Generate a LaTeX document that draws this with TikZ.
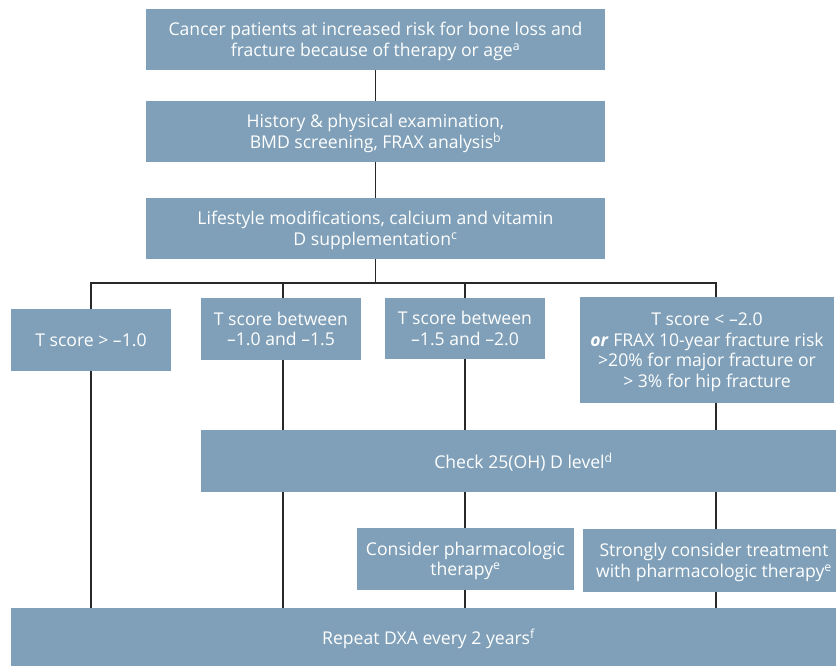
\documentclass[tikz,border=0pt]{standalone}
\usepackage{fontspec}
\setmainfont{Open Sans}
\definecolor{boxblue}{RGB}{127,160,184}
\definecolor{linegray}{RGB}{40,40,40}
\begin{document}
\begin{tikzpicture}[x=1pt,y=-1pt,
  box/.style={fill=boxblue, text=white, inner sep=0pt, align=center,
    text depth=0pt, font=\fontsize{17.6}{20.6}\selectfont},
  conn/.style={draw=linegray, line width=1.5pt}]
\useasboundingbox (0,0) rectangle (836,665);
\clip (0,0) rectangle (836,665);
% column coordinates
\coordinate (c1) at (91,0);
\coordinate (c2) at (283,0);
\coordinate (c3) at (465,0);
\coordinate (c4) at (716,0);
\coordinate (bus) at (375.5,283);
% boxes
\node[box, minimum width=459pt, minimum height=61pt] (b1) at (375.5,39.5)
  {Cancer patients at increased risk for bone loss and\\fracture because of therapy or age\textsuperscript{a}};
\node[box, minimum width=459pt, minimum height=61pt] (b2) at (375.5,131.5)
  {History \& physical examination,\\BMD screening, FRAX analysis\textsuperscript{b}};
\node[box, minimum width=459pt, minimum height=61pt] (b3) at (375.5,228.5)
  {Lifestyle modifications, calcium and vitamin\\D supplementation\textsuperscript{c}};
\node[box, minimum width=160pt, minimum height=62pt] (t1) at (91,340)
  {T score > –1.0};
\node[box, minimum width=160pt, minimum height=62pt] (t2) at (281,329)
  {T score between\\–1.0 and –1.5};
\node[box, minimum width=160pt, minimum height=61pt] (t3) at (465,328.5)
  {T score between\\–1.5 and –2.0};
\node[box, minimum width=254pt, minimum height=106pt] (t4) at (707,350)
  {T score < –2.0\\\textbf{\textit{or}} FRAX 10-year fracture risk\\>20\% for major fracture or\\> 3\% for hip fracture};
\node[box, minimum width=645pt, minimum height=62pt] (chk) at (523.5,461)
  {Check 25(OH) D level\textsuperscript{d}};
\node[box, minimum width=217pt, minimum height=62pt] (con) at (465.5,559)
  {Consider pharmacologic\\therapy\textsuperscript{e}};
\node[box, minimum width=262pt, minimum height=63pt] (str) at (714,560.5)
  {Strongly consider treatment\\with pharmacologic therapy\textsuperscript{e}};
\node[box, minimum width=835pt, minimum height=58pt] (rep) at (428.5,637)
  {Repeat DXA every 2 years\textsuperscript{f}};
% connectors
\draw[conn] (b1.south) -- (b2.north);
\draw[conn] (b2.south) -- (b3.north);
\draw[conn] (b3.south) -- (bus);
\draw[conn] (t1.north -| c1) |- (bus -| c4) -- (t4.north -| c4);
\draw[conn] (t2.north -| c2) -- (bus -| c2);
\draw[conn] (t3.north -| c3) -- (bus -| c3);
\draw[conn] (t1.south -| c1) -- (rep.north -| c1);
\draw[conn] (t2.south -| c2) -- (chk.north -| c2);
\draw[conn] (chk.south -| c2) -- (rep.north -| c2);
\draw[conn] (t3.south -| c3) -- (chk.north -| c3);
\draw[conn] (chk.south -| c3) -- (con.north -| c3);
\draw[conn] (con.south -| c3) -- (rep.north -| c3);
\draw[conn] (t4.south -| c4) -- (chk.north -| c4);
\draw[conn] (chk.south -| c4) -- (str.north -| c4);
\draw[conn] (str.south -| c4) -- (rep.north -| c4);
\end{tikzpicture}
\end{document}
